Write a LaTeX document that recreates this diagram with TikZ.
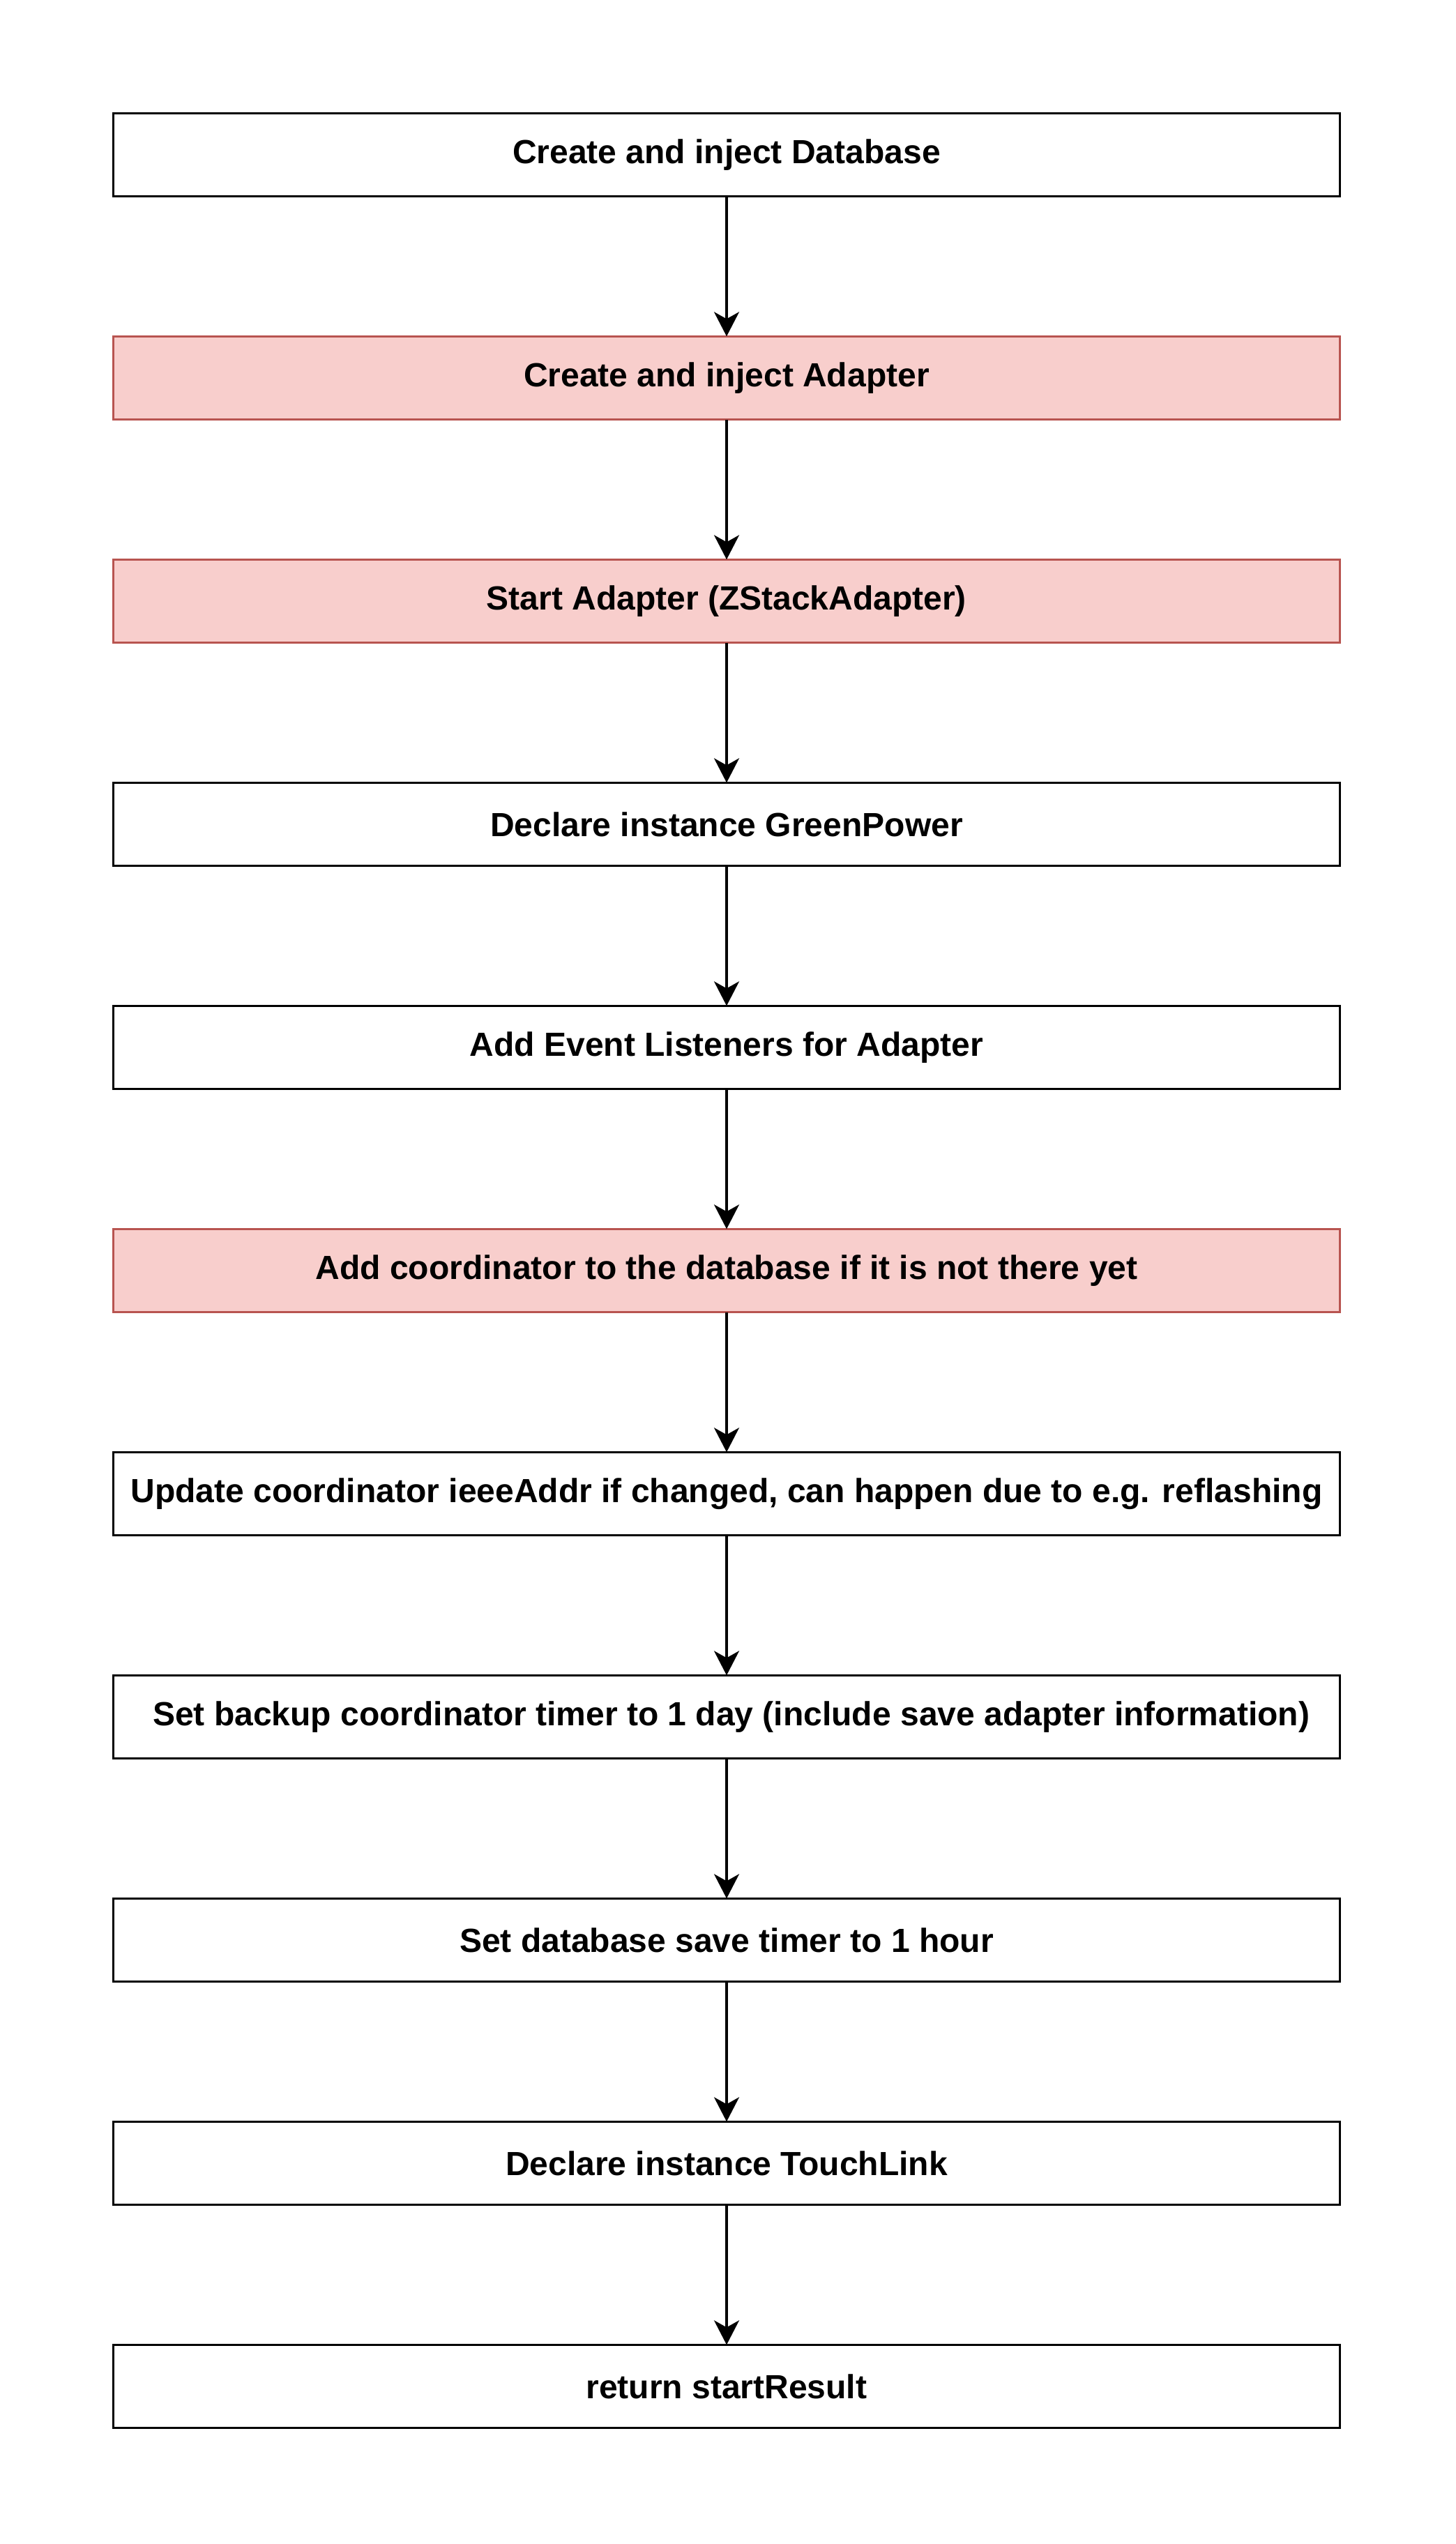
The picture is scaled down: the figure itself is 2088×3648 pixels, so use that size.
\documentclass[tikz,border=0pt]{standalone}
\usepackage{fontspec}
\setmainfont{Liberation Sans}
\usetikzlibrary{arrows.meta}
\definecolor{pinkfill}{HTML}{F8CECC}
\definecolor{pinkdraw}{HTML}{B85450}
\begin{document}
\begin{tikzpicture}[x=0.5pt,y=-0.5pt,
  stepbox/.style={draw=black, fill=white, line width=1.65pt, minimum width=879.7pt, minimum height=59.7pt, inner sep=0pt, outer sep=0pt, font=\fontsize{24}{28}\selectfont\bfseries},
  redbox/.style={stepbox, draw=pinkdraw, fill=pinkfill},
  flow/.style={-{Stealth[length=17.5pt,width=18pt,inset=5pt]}, line width=1.65pt}]
\useasboundingbox (0,0) rectangle (2088,3648);
\node[stepbox] (n1)  at (1042,222)  {Create and inject Database};
\node[redbox]  (n2)  at (1042,542)  {Create and inject Adapter};
\node[redbox]  (n3)  at (1042,862)  {Start Adapter (ZStackAdapter)};
\node[stepbox] (n4)  at (1042,1182) {Declare instance GreenPower};
\node[stepbox] (n5)  at (1042,1502) {Add Event Listeners for Adapter};
\node[redbox]  (n6)  at (1042,1822) {Add coordinator to the database if it is not there yet};
\node[stepbox] (n7)  at (1042,2142) {Update coordinator ieeeAddr if changed, can happen due to e.g. reflashing};
\node[stepbox] (n8)  at (1042,2462) {\ Set backup coordinator timer to 1 day (include save adapter information)};
\node[stepbox] (n9)  at (1042,2782) {Set database save timer to 1 hour};
\node[stepbox] (n10) at (1042,3102) {Declare instance TouchLink};
\node[stepbox] (n11) at (1042,3422) {return startResult};
\foreach \a/\b in {n1/n2,n2/n3,n3/n4,n4/n5,n5/n6,n6/n7,n7/n8,n8/n9,n9/n10,n10/n11}
  \draw[flow] (\a) -- (\b);
\end{tikzpicture}
\end{document}
